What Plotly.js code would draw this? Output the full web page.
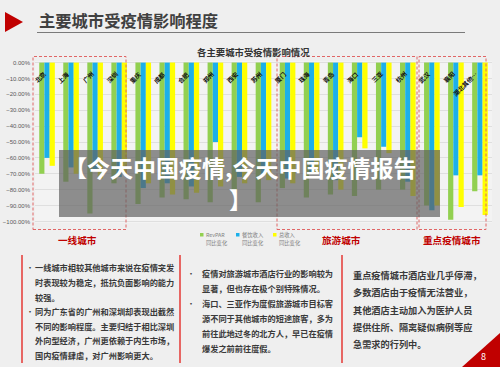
<!DOCTYPE html>
<html>
<head>
<meta charset="utf-8">
<script src="https://cdn.plot.ly/plotly-3.0.1.min.js"></script>
<style>html,body{margin:0;padding:0;background:#efefef;}#chart{width:500px;height:367px;}</style>
</head>
<body>
<div id="chart"></div>
<script>
// ---- data ----
const cities = ['北京','上海','广州','深圳','重庆','成都','合肥','郑州','西安','苏州','厦门','珠海','青岛','海口','三亚','杭州','武汉','襄阳','湖北其他…'];
const revpar  = [-0.70,-0.75,-0.95,-0.76,-0.89,-0.85,-0.86,-0.88,-0.82,-0.88,-0.79,-0.85,-0.83,-0.84,-0.80,-0.80,-0.90,-0.99,-0.81];
const catering= [-0.60,-0.66,-0.68,-0.72,-0.79,-0.76,-0.78,-0.50,-0.72,-0.70,-0.73,-0.70,-0.74,-0.47,-0.53,-0.75,-0.93,-0.71,-0.71];
const total   = [-0.65,-0.70,-0.73,-0.70,-0.76,-0.83,-0.82,-0.78,-0.76,-0.74,-0.76,-0.69,-0.80,-0.54,-0.57,-0.84,-0.90,-0.91,-0.96];
const seriesNames = ['RevPAR','餐饮收入','总收入'];
const yTicks = [0,-0.1,-0.2,-0.3,-0.4,-0.5,-0.6,-0.7,-0.8,-0.9,-1.0];
const groupNames = ['一线城市','旅游城市','重点疫情城市'];
const bannerLines = ['【今天中国疫情,今天中国疫情报告','】'];
const leftLines = ['一线城市相较其他城市来说在疫情突发','时表现较为稳定，抵抗负面影响的能力','较强。','同为广东省的广州和深圳却表现出截然','不同的影响程度。主要归结于相比深圳','外向型经济，广州更依赖于内生市场，','国内疫情肆虐，对广州影响更大。'];
const midLines = ['疫情对旅游城市酒店行业的影响较为','显著，但也存在极个别特殊情况。','海口、三亚作为度假旅游城市目标客','源不同于其他城市的短途旅客，多为','前往此地过冬的北方人，早已在疫情','爆发之前前往度假。'];
const rightLines = ['重点疫情城市酒店业几乎停滞，','多数酒店由于疫情无法营业，','其他酒店主动加入为医护人员','提供住所、隔离疑似病例等应','急需求的行列中。'];

// ---- layout helpers ----
const W=500,H=367,ML=35,MR=8,MT=61,MB=144;
const PW=W-ML-MR, PH=H-MT-MB;
const fx=x=>(x-ML)/PW, fy=y=>(H-MB-y)/PH;
const CJK='"Noto Sans CJK SC", "Noto Sans", sans-serif';
const colors=['#92d050','#1cb0ea','#ffff00'];

const traces=[revpar,catering,total].map((v,i)=>({
  type:'bar', x:cities, y:v, name:seriesNames[i],
  marker:{color:colors[i]}, hoverinfo:'skip'
}));

const shapes=[];
const ann=[];
function text(t,x,y,size,color,opts){
  ann.push(Object.assign({text:t,x:fx(x),y:fy(y),xref:'paper',yref:'paper',showarrow:false,
    xanchor:'left',yanchor:'middle',font:{family:CJK,size:size,color:color}},opts||{}));
}
// header
shapes.push({type:'path',xref:'paper',yref:'paper',path:`M ${fx(5)} ${fy(12)} L ${fx(23)} ${fy(22)} L ${fx(5)} ${fy(32)} Z`,fillcolor:'#c00000',line:{width:0}});
shapes.push({type:'line',xref:'paper',yref:'paper',x0:fx(37),x1:fx(465),y0:fy(32.5),y1:fy(32.5),line:{color:'#7a7a7a',width:1}});
text('主要城市受疫情影响程度',37,20,16.3,'#404040',{font:{family:CJK,size:16.3,color:'#404040',weight:'bold'}});
text('各主要城市受疫情影响情况',253,52,9.4,'#333',{xanchor:'center',font:{family:CJK,size:9.4,color:'#333',weight:'bold'}});

// dashed group boxes
[[33,126],[277,417],[419,486]].forEach(b=>{
  shapes.push({type:'rect',xref:'paper',yref:'paper',x0:fx(b[0]),x1:fx(b[1]),y0:fy(229.5),y1:fy(56.5),
    line:{color:'#e06666',width:1,dash:'3px,2px'},fillcolor:'rgba(0,0,0,0)',layer:'above'});
});
[[77.5,groupNames[0]],[341.5,groupNames[1]],[452,groupNames[2]]].forEach(g=>{
  text(g[1],g[0],239.5,9.6,'#c00000',{xanchor:'center',font:{family:CJK,size:9.6,color:'#c00000',weight:'bold'}});
});

// city labels (category tick labels drawn inside plot)
cities.forEach((c,i)=>{
  ann.push({text:c,x:c,xref:'x',y:fy(67),yref:'paper',xanchor:'right',yanchor:'top',xshift:3,showarrow:false,
    textangle:-45,font:{family:CJK,size:6.2,color:'#111',weight:'bold'}});
});

// legend
[[200,0],[236,1],[273,2]].forEach(l=>{
  shapes.push({type:'rect',xref:'paper',yref:'paper',x0:fx(l[0]),x1:fx(l[0]+3.5),y0:fy(236.5),y1:fy(233),
    fillcolor:colors[l[1]],line:{width:0}});
  text(seriesNames[l[1]],l[0]+5,234.5,5.3,'#7f7f7f',{borderpad:0});
  text('同比变化',l[0]+5,242.8,5.3,'#7f7f7f',{borderpad:0});
});

// overlay banner
shapes.push({type:'rect',xref:'paper',yref:'paper',x0:fx(59),x1:fx(440),y0:fy(217),y1:fy(150),fillcolor:'rgba(97,97,97,0.7)',line:{width:0},layer:'above'});
text(bannerLines[0],240,167,23,'#fff',{xanchor:'center',borderpad:0,font:{family:CJK,size:23,color:'#ffffff',weight:'bold'}});
text(bannerLines[1],240,199,23,'#fff',{xanchor:'center',borderpad:0,font:{family:CJK,size:23,color:'#ffffff',weight:'bold'}});

// bottom text panels
[22,180,342].forEach(x=>{
  shapes.push({type:'line',xref:'paper',yref:'paper',x0:fx(x),x1:fx(x),y0:fy(255),y1:fy(363),line:{color:'#e53935',width:1.5}});
});
const lY=[267,282,297,311,326,340,355];
leftLines.forEach((t,i)=>text(t,33,lY[i],8.2,'#3a3a3a',{font:{family:CJK,size:8.2,color:'#3a3a3a',weight:'bold'}}));
[267,311].forEach(y=>text('•',24,y,8,'#3a3a3a'));
const mY=[273,288,303,318,333,348];
midLines.forEach((t,i)=>text(t,200,mY[i],8.2,'#3a3a3a',{font:{family:CJK,size:8.2,color:'#3a3a3a',weight:'bold'}}));
[273,303].forEach(y=>text('•',185,y,8,'#3a3a3a'));
const rY=[275,292,310,327,344];
rightLines.forEach((t,i)=>text(t,351,rY[i],9.2,'#3a3a3a',{font:{family:CJK,size:9.2,color:'#3a3a3a',weight:'bold'}}));

// page number corner
shapes.push({type:'path',xref:'paper',yref:'paper',path:`M ${fx(462)} ${fy(367)} L ${fx(500)} ${fy(333)} L ${fx(500)} ${fy(367)} Z`,fillcolor:'#c00000',line:{width:0}});
text('8',483,356,9,'#fff',{xanchor:'center'});

const layout={
  width:W,height:H,margin:{l:ML,r:MR,t:MT,b:MB,pad:0},
  paper_bgcolor:'#efefef',plot_bgcolor:'#f3f3f3',
  barmode:'group',bargap:0.35,bargroupgap:0,showlegend:false,
  xaxis:{showticklabels:false,showgrid:false,zeroline:false,ticks:'',range:[-0.5,18.5],fixedrange:true},
  yaxis:{range:[-1.01,0.01],tickvals:yTicks,tickformat:'.2%',gridcolor:'#d9d9d9',gridwidth:0.8,zeroline:false,
    tickfont:{family:'"Liberation Sans", Arial, sans-serif',size:6,color:'#595959'},automargin:false,ticklabelstandoff:4},
  shapes:shapes,annotations:ann
};
Plotly.newPlot('chart',traces,layout,{staticPlot:true,displayModeBar:false});
</script>
</body>
</html>
